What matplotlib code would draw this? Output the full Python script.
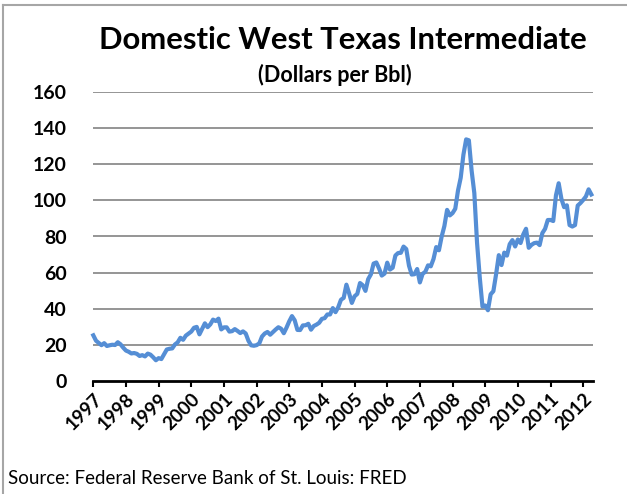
import matplotlib
matplotlib.use("Agg")
import matplotlib.pyplot as plt
from matplotlib.lines import Line2D

plt.rcParams['font.family'] = ['Lato', 'DejaVu Sans']

years = list(range(1997, 2013))
prices = {
    1997: [25.17, 22.18, 20.97, 19.70, 20.82, 19.26, 19.66, 19.95, 19.80, 21.33, 20.19, 18.33],
    1998: [16.72, 16.06, 15.12, 15.35, 14.91, 13.72, 14.17, 13.47, 15.03, 14.46, 13.00, 11.35],
    1999: [12.52, 12.01, 14.68, 17.31, 17.72, 17.92, 20.10, 21.28, 23.80, 22.69, 25.00, 26.10],
    2000: [27.26, 29.37, 29.84, 25.72, 28.79, 31.82, 29.70, 31.26, 33.88, 33.11, 34.42, 28.44],
    2001: [29.59, 29.61, 27.24, 27.49, 28.63, 27.60, 26.42, 27.37, 26.20, 22.17, 19.64, 19.39],
    2002: [19.72, 20.72, 24.53, 26.18, 27.04, 25.52, 26.97, 28.39, 29.66, 28.84, 26.35, 29.46],
    2003: [32.95, 35.83, 33.51, 28.17, 28.11, 30.66, 30.76, 31.57, 28.31, 30.34, 31.11, 32.13],
    2004: [34.31, 34.69, 36.74, 36.75, 40.28, 38.03, 40.78, 44.90, 45.94, 53.28, 48.47, 43.15],
    2005: [46.84, 48.15, 54.19, 52.98, 49.83, 56.35, 59.00, 64.99, 65.59, 62.26, 58.32, 59.41],
    2006: [65.49, 61.63, 62.69, 69.44, 70.84, 70.95, 74.41, 73.04, 63.80, 58.89, 59.08, 61.96],
    2007: [54.51, 59.28, 60.44, 63.98, 63.46, 67.49, 74.12, 72.36, 79.92, 85.80, 94.77, 91.69],
    2008: [92.97, 95.39, 105.45, 112.58, 125.40, 133.88, 133.37, 116.67, 104.11, 76.61, 57.31, 41.12],
    2009: [41.71, 39.09, 47.94, 49.65, 59.03, 69.64, 64.15, 71.05, 69.41, 75.72, 77.99, 74.47],
    2010: [78.33, 76.39, 81.20, 84.29, 73.74, 75.34, 76.32, 76.60, 75.24, 81.89, 84.25, 89.15],
    2011: [89.17, 88.58, 102.86, 109.53, 100.90, 96.26, 97.30, 86.33, 85.52, 86.32, 97.16, 98.56],
    2012: [100.27, 102.20, 106.16, 103.32],
}
values = [v for y in years for v in prices[y]]
x = list(range(len(values)))
yticks = [0, 20, 40, 60, 80, 100, 120, 140, 160]

W, H = 627, 494
fig = plt.figure(figsize=(W / 100, H / 100), dpi=100)
ax = fig.add_axes([93.3 / W, 1 - 380.7 / H, (592.7 - 93.3) / W, (380.7 - 92.3) / H])

for t in yticks[1:]:
    ax.axhline(t, color='#8c8c8c', lw=1.3, zorder=1)
ax.plot(x, values, color='#558ED5', lw=3.0, solid_joinstyle='round', zorder=3, clip_on=False)

ax.set_xlim(0, 183.5)
ax.set_ylim(0, 160)
ax.set_yticks(yticks)
ax.set_yticklabels([str(t) for t in yticks], fontsize=14, fontweight='bold')
ax.tick_params(axis='y', length=0, pad=19)
ax.set_xticks([12 * i for i in range(len(years))])
ax.set_xticklabels([str(y) for y in years], fontsize=13.5, fontweight='bold',
                   rotation=45, ha='right', va='top', rotation_mode='anchor')
ax.tick_params(axis='x', length=4, width=1.5, direction='out', pad=3, color='black')
for s in ['left', 'right', 'top']:
    ax.spines[s].set_visible(False)
ax.spines['bottom'].set_linewidth(2)
ax.spines['bottom'].set_color('black')

fig.text(343 / W, 1 - 40 / H, 'Domestic West Texas Intermediate', ha='center', va='center',
         fontsize=22.3, fontweight='bold')
fig.text(335 / W, 1 - 75 / H, '(Dollars per Bbl)', ha='center', va='center',
         fontsize=15.5, fontweight='bold')
fig.text(8 / W, 1 - 478 / H, 'Source: Federal Reserve Bank of St. Louis: FRED', ha='left', va='center',
         fontsize=13.5)

fig.add_artist(Line2D([3 / W, 3 / W], [0, 1 - 5 / H], transform=fig.transFigure, color='#a6a6a6', lw=1.5))
fig.add_artist(Line2D([3 / W, 626 / W], [1 - 5 / H, 1 - 5 / H], transform=fig.transFigure, color='#a6a6a6', lw=1.5))

fig.savefig('out.png', dpi=100)
